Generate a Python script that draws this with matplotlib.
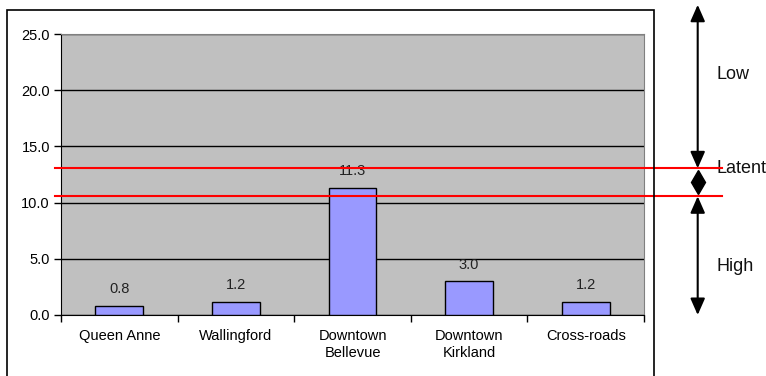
import matplotlib
matplotlib.use("Agg")
import matplotlib.pyplot as plt
from matplotlib.patches import Rectangle
from matplotlib.lines import Line2D
from matplotlib import font_manager

plt.rcParams['font.family'] = ['Liberation Sans', 'DejaVu Sans']

categories = ["Queen Anne", "Wallingford", "Downtown\nBellevue", "Downtown\nKirkland", "Cross-roads"]
values = [0.8, 1.2, 11.3, 3.0, 1.2]
yticks = [0.0, 5.0, 10.0, 15.0, 20.0, 25.0]
thresholds = [13.05, 10.56]          # upper / lower band limits
band_labels = ["Low", "Latent", "High"]
arrow_top = 27.6

installed = {f.name for f in font_manager.fontManager.ttflist}
band_family = ['Liberation Sans Narrow'] if 'Liberation Sans Narrow' in installed else ['Liberation Sans']
band_size = 14 if band_family[0] == 'Liberation Sans Narrow' else 13

W, H = 766, 376
fig = plt.figure(figsize=(W / 100, H / 100), dpi=100)

def fx(px):
    return px / W

def fy(py):
    return 1 - py / H

# outer chart frame
fig.patches.append(Rectangle((fx(7), fy(380)), fx(654) - fx(7), fy(10) - fy(380),
                             transform=fig.transFigure, fill=False, ec='black', lw=1.2))

ax = fig.add_axes([fx(61), fy(315), fx(644) - fx(61), fy(34) - fy(315)])
ax.set_facecolor('#C0C0C0')

x = list(range(len(categories)))
ax.bar(x, values, width=0.41, color='#9999FF', edgecolor='black', linewidth=1, zorder=3)
for xi, v in zip(x, values):
    ax.annotate(f"{v:.1f}", (xi, v), xytext=(0, 12), textcoords='offset points',
                ha='center', va='center', fontsize=10.5, color='#222222', zorder=4)

ax.set_xlim(-0.5, len(categories) - 0.5)
ax.set_ylim(0, 25)
ax.set_yticks(yticks)
ax.set_yticklabels([f"{t:.1f}" for t in yticks], fontsize=10.5)
ax.yaxis.grid(True, color='black', lw=1)
ax.set_axisbelow(True)

ax.set_xticks(x)
ax.set_xticklabels(categories, fontsize=10.5, linespacing=1.3)
ax.set_xticks([i - 0.5 for i in range(len(categories) + 1)], minor=True)
ax.tick_params(axis='x', which='major', length=0, pad=10)
ax.tick_params(axis='x', which='minor', length=5, direction='out', width=1)
ax.tick_params(axis='y', length=5, direction='out', width=1, pad=3)

for s in ['top', 'right']:
    ax.spines[s].set_color('#808080')
for s in ['left', 'bottom']:
    ax.spines[s].set_color('black')

# band limits
tr = ax.get_yaxis_transform()
x_right = (722 - 61) / (644 - 61)
x_left = (55 - 61) / (644 - 61)
for t in thresholds:
    ax.add_line(Line2D([x_left, x_right], [t, t], transform=tr, color='red', lw=1.5,
                       clip_on=False, zorder=5))

# band arrows: Low above the upper limit, High below the lower limit
xa = (697.7 - 61) / (644 - 61)
spans = [(arrow_top, thresholds[0]), (thresholds[1], 0.0)]
for y0, y1 in spans:
    ax.annotate("", xy=(xa, y1), xytext=(xa, y0), xycoords=tr, textcoords=tr,
                arrowprops=dict(arrowstyle='<|-|>,head_length=0.5,head_width=0.22',
                                color='black', lw=1.5,
                                mutation_scale=20, shrinkA=0, shrinkB=0),
                annotation_clip=False)

# the narrow Latent band gets a double-headed diamond
mid = (thresholds[0] + thresholds[1]) / 2
ax.plot([xa], [mid], transform=tr, marker='d', markersize=12.5, color='black',
        clip_on=False, zorder=6)

xl = (716 - 61) / (644 - 61)
label_y = [(arrow_top + thresholds[0]) / 2 + 1.1, mid + 1.2, 4.3]
for lab, ly in zip(band_labels, label_y):
    ax.text(xl, ly, lab, transform=tr, ha='left', va='center', fontsize=band_size,
            family=band_family, color='#111111', clip_on=False)

fig.savefig("out.png", dpi=100)
